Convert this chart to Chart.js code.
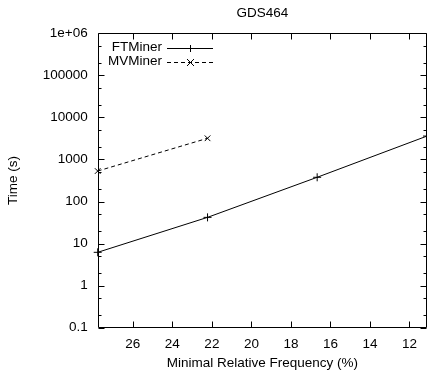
<!DOCTYPE html>
<html>
<head>
<meta charset="utf-8">
<script src="https://cdn.jsdelivr.net/npm/chart.js@4/dist/chart.umd.min.js"></script>
<style>
html,body{margin:0;padding:0;background:#fff;overflow:hidden;width:427px;height:374px;}
#wrap{position:absolute;left:0;top:0;width:432px;height:374px;}
</style>
</head>
<body>
<div id="wrap"><canvas id="c" width="432" height="374"></canvas></div>
<script>
const chartTitle = 'GDS464';
const xTitle = 'Minimal Relative Frequency (%)';
const yTitle = 'Time (s)';
const seriesNames = ['FTMiner', 'MVMiner'];
const freqFT = [27.78, 22.22, 16.67, 11.11];
const timeFT = [6.2, 42, 377, 3600];
const freqMV = [27.78, 22.22];
const timeMV = [531, 3190];
const xTicks = [26, 24, 22, 20, 18, 16, 14, 12];
const yTicks = [0.1, 1, 10, 100, 1000, 10000, 100000, 1000000];
const yTickLabels = ['0.1', '1', '10', '100', '1000', '10000', '100000', '1e+06'];
const minorFactors = [2, 5];

const FONT = '"Liberation Sans", Arial, Helvetica, sans-serif';
const FS = 13.5;

const pts = (xs, ys) => xs.map((x, i) => ({x: x, y: ys[i]}));

const framePlugin = {
  id: 'frame',
  afterDraw(chart) {
    const ctx = chart.ctx;
    const a = chart.chartArea;
    const xs = chart.scales.x, ys = chart.scales.y;
    ctx.save();
    ctx.strokeStyle = '#000';
    ctx.lineWidth = 1;
    ctx.beginPath();
    const L = Math.round(a.left) + 0.5, R = Math.round(a.right) - 0.5;
    const T = Math.round(a.top) + 0.5, B = Math.round(a.bottom) - 0.5;
    ctx.rect(L, T, R - L, B - T);
    const maj = 6, min = 3;
    xTicks.forEach(v => {
      const px = Math.round(xs.getPixelForValue(v)) + 0.5;
      ctx.moveTo(px, B); ctx.lineTo(px, B - maj);
      ctx.moveTo(px, T); ctx.lineTo(px, T + maj);
    });
    yTicks.forEach(v => {
      const py = Math.round(ys.getPixelForValue(v)) + 0.5;
      ctx.moveTo(L, py); ctx.lineTo(L + maj, py);
      ctx.moveTo(R, py); ctx.lineTo(R - maj, py);
    });
    for (let i = 0; i < yTicks.length - 1; i++) {
      minorFactors.forEach(f => {
        const py = Math.round(ys.getPixelForValue(yTicks[i] * f)) + 0.5;
        ctx.moveTo(L, py); ctx.lineTo(L + min, py);
        ctx.moveTo(R, py); ctx.lineTo(R - min, py);
      });
    }
    ctx.stroke();

    // titles
    ctx.fillStyle = '#000';
    ctx.font = FS + 'px ' + FONT;
    ctx.textAlign = 'center';
    ctx.textBaseline = 'middle';
    const cx = (a.left + a.right) / 2;
    ctx.fillText(chartTitle, cx, 13);
    ctx.fillText(xTitle, cx, 363);
    ctx.save();
    ctx.translate(13, (a.top + a.bottom) / 2);
    ctx.rotate(-Math.PI / 2);
    ctx.fillText(yTitle, 0, 0);
    ctx.restore();

    // legend (gnuplot style: text, then sample)
    const rows = [47.5, 61.5];
    chart.data.datasets.forEach((ds, i) => {
      const y = rows[i];
      ctx.textAlign = 'right';
      ctx.fillText(ds.label, 162, y);
      ctx.beginPath();
      ctx.setLineDash(ds.borderDash || []);
      ctx.moveTo(167, Math.round(y) + 0.5);
      ctx.lineTo(213, Math.round(y) + 0.5);
      ctx.stroke();
      ctx.setLineDash([]);
      ctx.beginPath();
      const mx = 190.5, my = Math.round(y) + 0.5, r = 3.5;
      if (ds.pointStyle === 'cross') {
        ctx.moveTo(mx - r, my); ctx.lineTo(mx + r, my);
        ctx.moveTo(mx, my - r); ctx.lineTo(mx, my + r);
      } else {
        ctx.moveTo(mx - r, my - r); ctx.lineTo(mx + r, my + r);
        ctx.moveTo(mx - r, my + r); ctx.lineTo(mx + r, my - r);
      }
      ctx.stroke();
    });
    ctx.restore();
  }
};

new Chart(document.getElementById('c'), {
  type: 'line',
  data: {
    datasets: [
      {
        label: seriesNames[0],
        data: pts(freqFT, timeFT),
        borderColor: '#000',
        backgroundColor: '#000',
        borderWidth: 1,
        pointStyle: 'cross',
        pointRadius: 4,
        pointBorderWidth: 1,
        pointBorderColor: '#000',
        fill: false,
        tension: 0,
        clip: false
      },
      {
        label: seriesNames[1],
        data: pts(freqMV, timeMV),
        borderColor: '#000',
        backgroundColor: '#000',
        borderWidth: 1,
        borderDash: [4, 3],
        pointStyle: 'crossRot',
        pointRadius: 4,
        pointBorderWidth: 1,
        pointBorderColor: '#000',
        fill: false,
        tension: 0,
        clip: false
      }
    ]
  },
  options: {
    responsive: false,
    animation: false,
    devicePixelRatio: 1,
    layout: { padding: { top: 33.3, right: 1.2, left: 0, bottom: 0 } },
    plugins: {
      legend: { display: false },
      title: { display: false },
      tooltip: { enabled: false }
    },
    scales: {
      x: {
        type: 'linear',
        reverse: true,
        min: 11.11,
        max: 27.78,
        grid: { display: false, drawTicks: false },
        border: { display: false },
        afterBuildTicks: s => { s.ticks = xTicks.map(v => ({value: v})); },
        afterFit: s => { s.height = 46.3; },
        ticks: {
          color: '#000',
          font: { family: FONT, size: FS },
          padding: 8,
          maxRotation: 0,
          autoSkip: false,
          callback: v => String(v)
        }
      },
      y: {
        type: 'logarithmic',
        min: 0.1,
        max: 1000000,
        grid: { display: false, drawTicks: false },
        border: { display: false },
        afterBuildTicks: s => { s.ticks = yTicks.map(v => ({value: v, major: true})); },
        afterFit: s => { s.width = 97.7; },
        ticks: {
          color: '#000',
          font: { family: FONT, size: FS },
          padding: 10,
          autoSkip: false,
          callback: v => { const i = yTicks.indexOf(v); return i >= 0 ? yTickLabels[i] : ''; }
        }
      }
    }
  },
  plugins: [framePlugin]
});
</script>
</body>
</html>
